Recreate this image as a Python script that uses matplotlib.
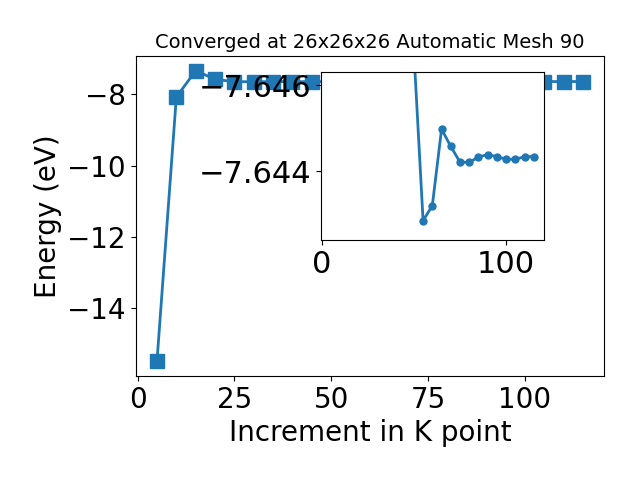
import numpy as np
import matplotlib
matplotlib.use("Agg")
import matplotlib.pyplot as plt

# k-point increments and total energies (eV)
kpts = [5, 10, 15, 20, 25, 30, 35, 40, 45, 50, 55, 60, 65, 70, 75, 80,
        85, 90, 95, 100, 105, 110, 115]
energy = [-15.48, -8.08, -7.34, -7.58, -7.6495, -7.6482, -7.6475, -7.6472,
          -7.6470, -7.6468, -7.64285, -7.64320, -7.64498, -7.64458,
          -7.64421, -7.64421, -7.64433, -7.64439, -7.64434, -7.64428,
          -7.64428, -7.64434, -7.64434]

# inset shows the converged tail
start = 4

fig = plt.figure(figsize=(6.4, 4.8), dpi=100)
ax = fig.add_subplot(111)
fig.subplots_adjust(left=0.212, right=0.944, top=0.883, bottom=0.217)

ax.plot(kpts, energy, "s-", color="#1f77b4", linewidth=2, markersize=10)
ax.set_title("Converged at 26x26x26 Automatic Mesh 90", fontsize=14)
ax.set_xlabel("Increment in K point", fontsize=20)
ax.set_ylabel("Energy (eV)", fontsize=20)
ax.tick_params(labelsize=20)

ins = fig.add_axes([0.501, 0.5, 0.349, 0.349])
ins.plot(kpts[start:], energy[start:], "o-", color="#1f77b4",
         linewidth=2, markersize=5)
ins.set_xlim(-0.5, 120.5)
ins.set_ylim(-7.6424, -7.6463)
ins.set_xticks([0, 100])
ins.set_yticks([-7.646, -7.644])
ins.ticklabel_format(axis="y", useOffset=False)
ins.tick_params(labelsize=22)

plt.savefig("out.png")
